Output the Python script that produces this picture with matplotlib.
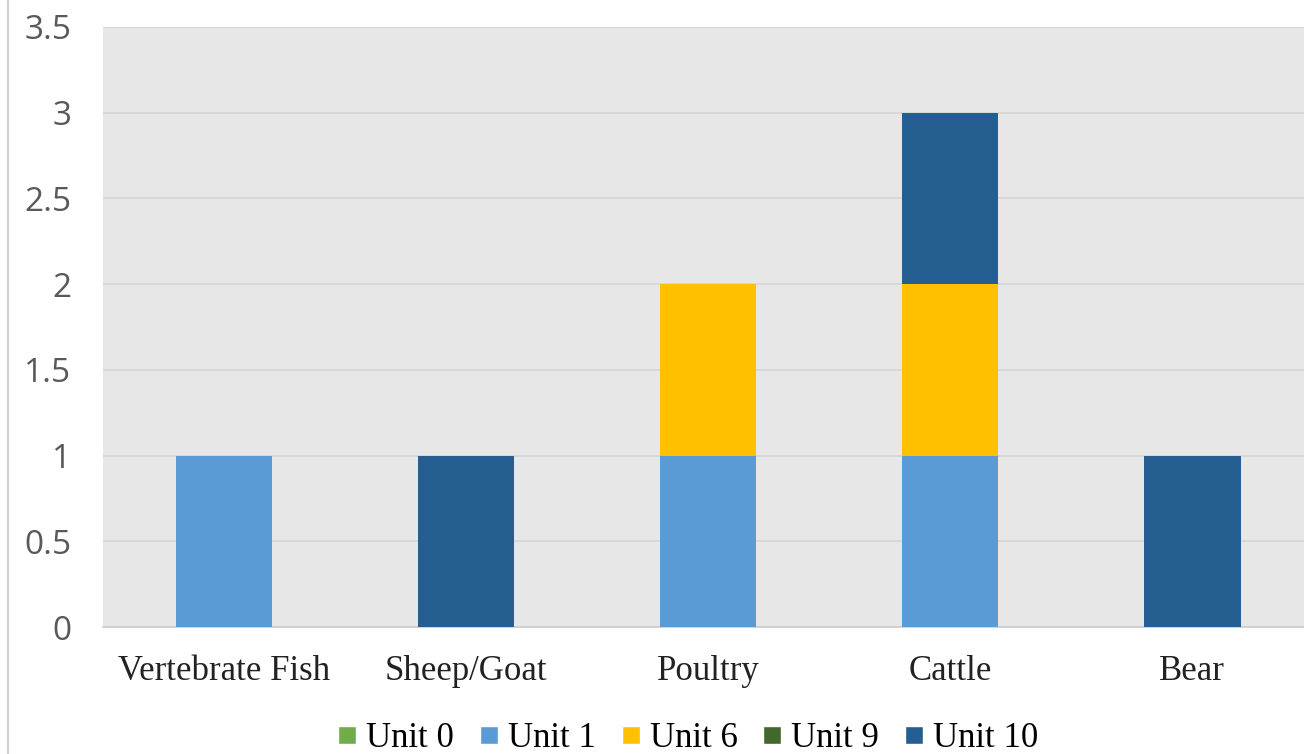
import matplotlib.pyplot as plt
from matplotlib.lines import Line2D
import numpy as np

# --- Data ---
categories = ["Vertebrate Fish", "Sheep/Goat", "Poultry", "Cattle", "Bear"]
units = ["Unit 0", "Unit 1", "Unit 6", "Unit 9", "Unit 10"]
unit0 = [0, 0, 0, 0, 0]
unit1 = [1, 0, 1, 1, 0]
unit6 = [0, 0, 1, 1, 0]
unit9 = [0, 0, 0, 0, 0]
unit10 = [0, 1, 0, 1, 1]
yticks = [0, 0.5, 1, 1.5, 2, 2.5, 3, 3.5]
ytick_labels = ["0", "0.5", "1", "1.5", "2", "2.5", "3", "3.5"]

# --- Colors ---
colors = ["#70ad47", "#5b9bd5", "#ffc000", "#43682b", "#255e91"]
series = [unit0, unit1, unit6, unit9, unit10]

fig = plt.figure(figsize=(13.04, 7.54), dpi=100)
ax = fig.add_axes([0.079, 0.1684, 0.928, 0.7958])
ax.set_facecolor("#e7e7e7")

x = np.arange(len(categories))
bottom = np.zeros(len(categories))
for vals, col, name in zip(series, colors, units):
    vals = np.array(vals, dtype=float)
    ax.bar(x, vals, width=0.4, bottom=bottom, color=col, label=name, zorder=3)
    bottom += vals

ax.set_xlim(-0.5, len(categories) - 0.5)
ax.set_ylim(0, 3.5)
ax.set_yticks(yticks)
ax.set_yticklabels(ytick_labels, fontsize=24, color="#595959", family="Open Sans")
ax.set_xticks(x)
ax.set_xticklabels(categories, fontsize=25, family="Liberation Serif", color="#222222")
ax.tick_params(axis="both", length=0)
ax.tick_params(axis="y", pad=23)
ax.tick_params(axis="x", pad=20)
ax.grid(axis="y", color="#d6d6d6", linewidth=1.2, zorder=0)
for s in ["top", "right", "left"]:
    ax.spines[s].set_visible(False)
ax.spines["bottom"].set_color("#cccccc")
ax.spines["bottom"].set_linewidth(1.2)

# legend
handles = [Line2D([0], [0], marker="s", color="w", markerfacecolor=c,
                  markersize=13, label=u) for c, u in zip(colors, units)]
fig.legend(handles=handles, loc="center", bbox_to_anchor=(0.526, 0.02),
           ncol=5, frameon=False, prop={"family": "Liberation Serif", "size": 25},
           handletextpad=0.15, columnspacing=0.6, handlelength=0.8)

# left border line
fig.add_artist(Line2D([0.0065, 0.0065], [0, 1], color="#d0d0d0", linewidth=1.5))

fig.savefig("out.png", dpi=100)
